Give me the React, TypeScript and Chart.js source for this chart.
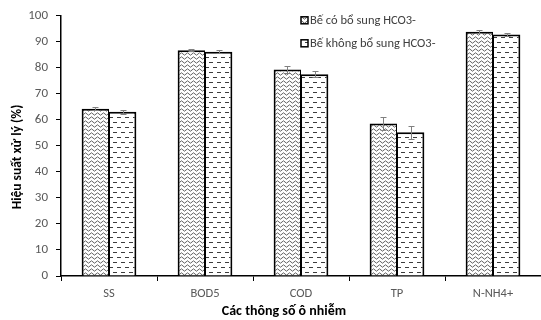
import React, { useEffect, useRef } from "react";
import { Chart, registerables } from "chart.js";

Chart.register(...registerables);

const categories = ["SS", "BOD5", "COD", "TP", "N-NH4+"];
const seriesNames = ["Bế có bổ sung HCO3-", "Bế không bổ sung HCO3-"];
const withHCO3 = [64.3, 86.8, 79.4, 58.6, 93.9];
const withoutHCO3 = [63.1, 86.2, 77.5, 55.2, 92.8];
const errWith = [0.5, 0.4, 1.3, 2.5, 0.5];
const errWithout = [0.7, 0.5, 1.2, 2.5, 0.4];
const yTitle = "Hiệu suất xử lý (%)";
const xTitle = "Các thông số ô nhiễm";

const FONT = "Carlito, Calibri, Lato, 'Open Sans', sans-serif";

function wavePattern(): CanvasPattern | string {
  const c = document.createElement("canvas");
  c.width = 6;
  c.height = 4;
  const ctx = c.getContext("2d");
  if (!ctx) return "#fff";
  ctx.fillStyle = "#fff";
  ctx.fillRect(0, 0, 6, 4);
  ctx.strokeStyle = "#505050";
  ctx.lineWidth = 0.9;
  ctx.beginPath();
  ctx.moveTo(-6, 2);
  for (let k = -1; k <= 1; k++) {
    const x = k * 6;
    ctx.quadraticCurveTo(x + 1.5, -0.4, x + 3, 2);
    ctx.quadraticCurveTo(x + 4.5, 4.4, x + 6, 2);
  }
  ctx.stroke();
  return ctx.createPattern(c, "repeat") || "#fff";
}

function dashPattern(): CanvasPattern | string {
  const c = document.createElement("canvas");
  c.width = 8;
  c.height = 10;
  const ctx = c.getContext("2d");
  if (!ctx) return "#fff";
  ctx.fillStyle = "#fff";
  ctx.fillRect(0, 0, 8, 10);
  ctx.fillStyle = "#3c3c3c";
  ctx.fillRect(1, 2, 4, 1);
  ctx.fillRect(5, 7, 3, 1);
  ctx.fillRect(0, 7, 1, 1);
  return ctx.createPattern(c, "repeat") || "#fff";
}

const errorBarPlugin = {
  id: "errorBars",
  afterDatasetsDraw(chart: any) {
    const ctx = chart.ctx;
    const y = chart.scales.y;
    const errs = [errWith, errWithout];
    ctx.save();
    ctx.strokeStyle = "#808080";
    ctx.lineWidth = 1;
    chart.data.datasets.forEach((ds: any, i: number) => {
      const meta = chart.getDatasetMeta(i);
      meta.data.forEach((bar: any, j: number) => {
        const v = ds.data[j];
        const e = errs[i][j];
        const yt = Math.round(y.getPixelForValue(v + e)) + 0.5;
        const yb = Math.round(y.getPixelForValue(v - e)) + 0.5;
        const x = Math.round(bar.x) + 0.5;
        ctx.beginPath();
        ctx.moveTo(x, yt);
        ctx.lineTo(x, yb);
        ctx.moveTo(x - 3, yt);
        ctx.lineTo(x + 3, yt);
        ctx.moveTo(x - 3, yb);
        ctx.lineTo(x + 3, yb);
        ctx.stroke();
      });
    });
    ctx.restore();
  },
};

const overlayPlugin = {
  id: "overlay",
  afterDraw(chart: any) {
    const ctx = chart.ctx;
    const area = chart.chartArea;
    // legend
    const x0 = area.left + 240;
    const ys = [area.top + 5, area.top + 28];
    ctx.save();
    chart.data.datasets.forEach((ds: any, i: number) => {
      const yy = ys[i];
      ctx.fillStyle = ds.backgroundColor;
      ctx.fillRect(x0, yy - 4, 7, 7);
      ctx.strokeStyle = "#000";
      ctx.lineWidth = 1.5;
      ctx.strokeRect(x0, yy - 4, 7, 7);
      ctx.fillStyle = "#404040";
      ctx.font = `12.5px ${FONT}`;
      ctx.textBaseline = "middle";
      ctx.textAlign = "left";
      ctx.fillText(seriesNames[i], x0 + 9, yy);
    });
    // axis titles
    ctx.fillStyle = "#000";
    ctx.font = `bold 14px ${FONT}`;
    ctx.textAlign = "center";
    ctx.textBaseline = "middle";
    ctx.fillText(xTitle, 284, 311);
    ctx.translate(18, 157);
    ctx.rotate(-Math.PI / 2);
    ctx.font = `bold 13.5px ${FONT}`;
    ctx.fillText(yTitle, 0, 0);
    ctx.restore();
  },
};

export default function App() {
  const ref = useRef<HTMLCanvasElement | null>(null);
  useEffect(() => {
    document.body.style.margin = "0";
    if (!ref.current) return;
    const chart = new Chart(ref.current, {
      type: "bar",
      data: {
        labels: categories,
        datasets: [
          {
            label: seriesNames[0],
            data: withHCO3,
            backgroundColor: wavePattern() as any,
            borderColor: "#000",
            borderWidth: { left: 2, top: 2, right: 1, bottom: 0 } as any,
            borderSkipped: false as any,
            categoryPercentage: 0.57,
            barPercentage: 1,
          },
          {
            label: seriesNames[1],
            data: withoutHCO3,
            backgroundColor: dashPattern() as any,
            borderColor: "#000",
            borderWidth: { left: 1, top: 2, right: 2, bottom: 0 } as any,
            borderSkipped: false as any,
            categoryPercentage: 0.57,
            barPercentage: 1,
          },
        ],
      },
      options: {
        animation: false,
        responsive: false,
        layout: { padding: { top: 14, right: 0, left: 0, bottom: 0 } },
        plugins: { legend: { display: false }, tooltip: { enabled: false } },
        scales: {
          x: {
            grid: {
              display: true,
              drawOnChartArea: false,
              drawTicks: true,
              tickLength: 5,
              color: "#000",
              offset: true,
            },
            border: { display: true, color: "#000", width: 1.5 },
            ticks: { color: "#595959", font: { family: FONT, size: 12.5 }, padding: 5 },
            afterFit(scale: any) {
              scale.height = 44;
            },
          },
          y: {
            min: 0,
            max: 100,
            ticks: { stepSize: 10, color: "#595959", font: { family: FONT, size: 13 }, padding: 8 },
            grid: {
              display: true,
              drawOnChartArea: false,
              drawTicks: true,
              tickLength: 5,
              color: "#000",
            },
            border: { display: true, color: "#000", width: 1.5 },
            afterFit(scale: any) {
              scale.width = 61;
            },
          },
        },
      },
      plugins: [errorBarPlugin, overlayPlugin],
    });
    return () => chart.destroy();
  }, []);
  return <canvas ref={ref} width={541} height={320} style={{ display: "block" }} />;
}
